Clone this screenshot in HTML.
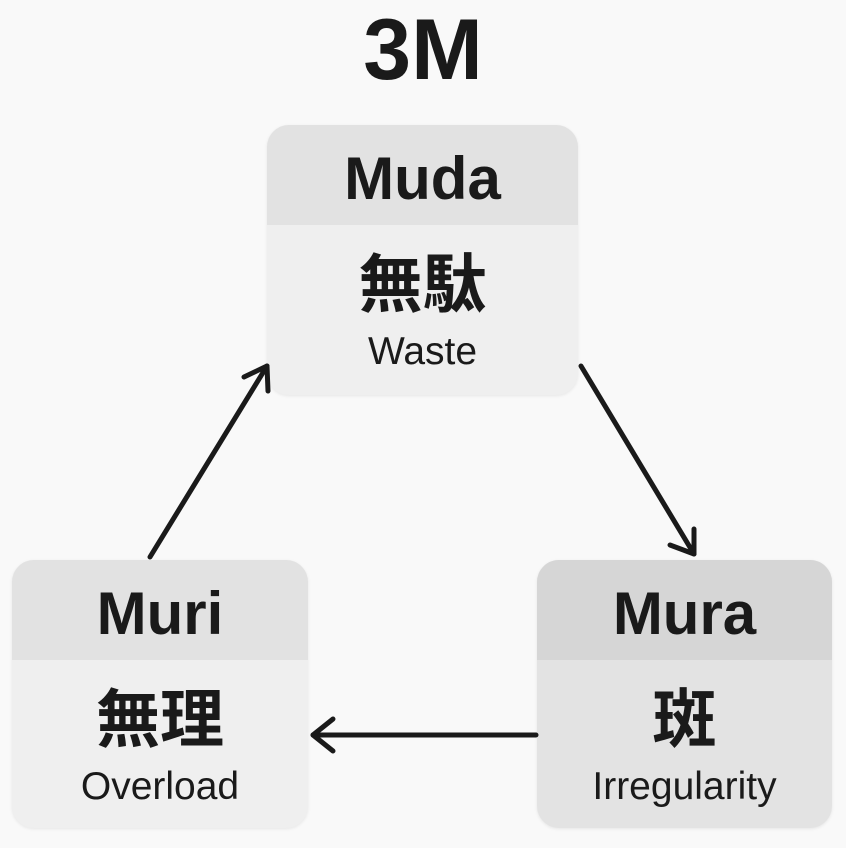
<!DOCTYPE html>
<html><head><meta charset="utf-8"><style>
body{margin:0;width:846px;height:848px;background:#f9f9f9;position:relative;overflow:hidden;font-family:"Liberation Sans","Noto Sans CJK JP",sans-serif;color:#1a1a1a}
.t{position:absolute;left:0;width:846px;top:2px;text-align:center;font-weight:bold;font-size:86px;line-height:96px}
.b{position:absolute;border-radius:22px;overflow:hidden;background:#efefef;box-shadow:0 1px 3px rgba(0,0,0,.08)}
.h{height:100px;background:#e2e2e2;text-align:center;font-weight:bold;font-size:60px;line-height:108px}
.k{text-align:center;font-size:64px;font-weight:bold;line-height:66px;margin-top:22px;font-family:"Noto Sans CJK JP",sans-serif}
.e{text-align:center;font-size:39px;line-height:44px;margin-top:17px}
</style></head><body>
<div class="t">3M</div>
<div class="b" style="left:267px;top:125px;width:311px;height:270px"><div class="h">Muda</div><div class="k">無駄</div><div class="e">Waste</div></div>
<div class="b" style="left:12px;top:560px;width:296px;height:268px"><div class="h">Muri</div><div class="k">無理</div><div class="e">Overload</div></div>
<div class="b" style="left:537px;top:560px;width:295px;height:268px;background:#e3e3e3"><div class="h" style="background:#d6d6d6">Mura</div><div class="k">斑</div><div class="e">Irregularity</div></div>
<svg width="846" height="848" style="position:absolute;left:0;top:0" fill="none" stroke="#1a1a1a" stroke-width="5" stroke-linecap="round" stroke-linejoin="round">
<line x1="150" y1="557" x2="267" y2="366"/><polyline points="244,377 267,366 268,391"/>
<line x1="581" y1="366" x2="694" y2="554"/><polyline points="670,545 694,554 694,529"/>
<line x1="536" y1="735" x2="313" y2="735"/><polyline points="333,719 313,735 333,751"/>
</svg>
</body></html>
